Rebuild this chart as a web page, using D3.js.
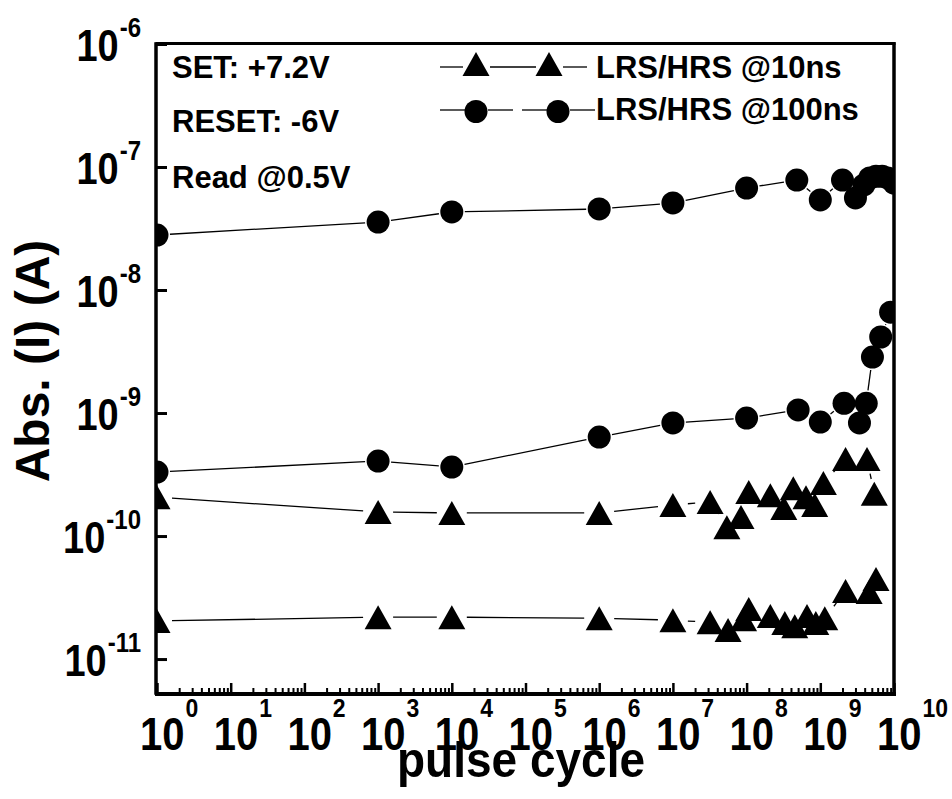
<!DOCTYPE html>
<html>
<head>
<meta charset="utf-8">
<script src="https://cdn.jsdelivr.net/npm/d3@7"></script>
<style>
  html, body { margin: 0; padding: 0; background: #fff; }
  svg { display: block; }
  text { font-family: "Liberation Sans", Arial, Helvetica, sans-serif; font-weight: bold; fill: #000; }
</style>
</head>
<body>
<svg id="chart" width="952" height="799"></svg>
<script>
// ---------- data ----------
const cyclesLRS100 = [1, 1e3, 1e4, 1e6, 1e7, 1e8, 4.8e8, 1e9, 2e9, 3e9, 3.9e9, 4.7e9, 5.7e9, 6.9e9, 8.3e9, 1e10];
const currentLRS100 = [2.80e-8, 3.57e-8, 4.31e-8, 4.56e-8, 5.10e-8, 6.75e-8, 7.83e-8, 5.40e-8, 7.83e-8, 5.60e-8, 7.15e-8, 8.14e-8, 8.4e-8, 8.4e-8, 8.14e-8, 7.4e-8];

const cyclesHRS100 = [1, 1e3, 1e4, 1e6, 1e7, 1e8, 5e8, 1e9, 2.1e9, 3.4e9, 4.2e9, 5.1e9, 6.6e9, 9e9];
const currentHRS100 = [3.31e-10, 4.07e-10, 3.64e-10, 6.38e-10, 8.30e-10, 9.10e-10, 1.06e-9, 8.45e-10, 1.20e-9, 8.30e-10, 1.20e-9, 2.85e-9, 4.15e-9, 6.6e-9];

const cyclesLRS10 = [1, 1e3, 1e4, 1e6, 1e7, 3.2e7, 5.4e7, 8.4e7, 1.07e8, 2.1e8, 3.2e8, 4.3e8, 6.4e8, 8.4e8, 1.1e9, 2.2e9, 4.3e9, 5.4e9];
const currentLRS10 = [2.07e-10, 1.57e-10, 1.54e-10, 1.54e-10, 1.79e-10, 1.89e-10, 1.18e-10, 1.43e-10, 2.28e-10, 2.15e-10, 1.69e-10, 2.45e-10, 2.07e-10, 1.79e-10, 2.70e-10, 4.23e-10, 4.23e-10, 2.21e-10];

const cyclesHRS10 = [1, 1e3, 1e4, 1e6, 1e7, 3.2e7, 5.6e7, 9.1e7, 1.07e8, 2.1e8, 3.3e8, 4.5e8, 6.6e8, 8.7e8, 1.15e9, 2.2e9, 4.6e9, 5.7e9];
const currentHRS10 = [2.04e-11, 2.19e-11, 2.19e-11, 2.15e-11, 2.07e-11, 1.99e-11, 1.72e-11, 2.11e-11, 2.55e-11, 2.24e-11, 1.96e-11, 1.85e-11, 2.24e-11, 1.96e-11, 2.15e-11, 3.57e-11, 3.5e-11, 4.47e-11];

const xTickExponents = [0, 1, 2, 3, 4, 5, 6, 7, 8, 9, 10];
const yTickExponents = [-6, -7, -8, -9, -10, -11];
const legendLabels = ["LRS/HRS @10ns", "LRS/HRS @100ns"];
const annotations = ["SET: +7.2V", "RESET: -6V", "Read @0.5V"];
const xTitle = "pulse cycle";
const yTitle = "Abs. (I) (A)";

// ---------- layout ----------
const L = 157, R = 894, T = 44, B = 693;
const svg = d3.select("#chart");

const x = d3.scaleLog().domain([1, 1e10]).range([L, R]);
const y = d3.scaleLog().domain([1e-6, Math.pow(10, -11.276)]).range([T, B]);

// clip
svg.append("defs").append("clipPath").attr("id", "plotclip")
  .append("rect").attr("x", L).attr("y", T).attr("width", R - L).attr("height", B - T);

// ---------- axes ticks ----------
const minorVals = [];
for (let e = 0; e < 10; e++) for (let m = 2; m <= 9; m++) minorVals.push(m * Math.pow(10, e));

const xMinor = svg.append("g").attr("transform", `translate(0,${B})`)
  .call(d3.axisBottom(x).tickValues(minorVals).tickSize(-5).tickFormat(""));
xMinor.select(".domain").remove();
xMinor.selectAll("line").attr("stroke", "#000").attr("stroke-width", 2);

const xMajor = svg.append("g").attr("transform", `translate(0,${B})`)
  .call(d3.axisBottom(x).tickValues(xTickExponents.map(e => Math.pow(10, e))).tickSize(-10).tickFormat(""));
xMajor.select(".domain").remove();
xMajor.selectAll("line").attr("stroke", "#000").attr("stroke-width", 2.5);

const yAx = svg.append("g").attr("transform", `translate(${L},0)`)
  .call(d3.axisLeft(y).tickValues(yTickExponents.map(e => Math.pow(10, e))).tickSize(-10).tickFormat(""));
yAx.select(".domain").remove();
yAx.selectAll("line").attr("stroke", "#000").attr("stroke-width", 3);

// ---------- tick labels ----------
xTickExponents.forEach(e => {
  const px = x(Math.pow(10, e));
  const g = svg.append("g").attr("transform", `translate(${px - 17},750) scale(1,1.15)`);
  const t = g.append("text").attr("x", 0).attr("y", 0).attr("font-size", 40);
  t.append("tspan").text("10");
  t.append("tspan").attr("dx", 1).attr("dy", -28.5).attr("font-size", 23).text(String(e));
});

yTickExponents.forEach(e => {
  const py = y(Math.pow(10, e));
  const g = svg.append("g").attr("transform", `translate(141,${py + 17}) scale(1,1.15)`);
  const t = g.append("text").attr("x", 0).attr("y", 0).attr("font-size", 38).attr("text-anchor", "end");
  t.append("tspan").text("10");
  t.append("tspan").attr("dx", 1).attr("dy", -21).attr("font-size", 24).text(String(e));
});

// ---------- axis titles ----------
svg.append("g").attr("transform", `translate(521,777) scale(1,1.1)`)
  .append("text").attr("text-anchor", "middle").attr("font-size", 46).text(xTitle);
svg.append("g").attr("transform", `translate(49,361) rotate(-90)`)
  .append("text").attr("text-anchor", "middle").attr("font-size", 48).text(yTitle);

// ---------- series ----------
const plot = svg.append("g").attr("clip-path", "url(#plotclip)");

function drawSegments(xs, ys, gap) {
  const pts = xs.map((c, i) => [x(c), y(ys[i])]);
  for (let i = 0; i < pts.length - 1; i++) {
    const [x1, y1] = pts[i], [x2, y2] = pts[i + 1];
    const dx = x2 - x1, dy = y2 - y1, len = Math.hypot(dx, dy);
    if (len <= 2 * gap) continue;
    const ux = dx / len, uy = dy / len;
    plot.append("line")
      .attr("x1", x1 + ux * gap).attr("y1", y1 + uy * gap)
      .attr("x2", x2 - ux * gap).attr("y2", y2 - uy * gap)
      .attr("stroke", "#000").attr("stroke-width", 1.3);
  }
}

const triPath = (cx, cy) => {
  const w = 27, h = 24;
  return `M${cx},${cy - h / 2}L${cx + w / 2},${cy + h / 2}L${cx - w / 2},${cy + h / 2}Z`;
};

function drawCircles(xs, ys) {
  plot.selectAll(null).data(xs.map((c, i) => [c, ys[i]])).enter().append("circle")
    .attr("cx", d => x(d[0])).attr("cy", d => y(d[1])).attr("r", 11.5).attr("fill", "#000");
}
function drawTriangles(xs, ys) {
  plot.selectAll(null).data(xs.map((c, i) => [c, ys[i]])).enter().append("path")
    .attr("d", d => triPath(x(d[0]), y(d[1]))).attr("fill", "#000");
}

drawSegments(cyclesLRS100, currentLRS100, 13);
drawSegments(cyclesHRS100, currentHRS100, 13);
drawSegments(cyclesLRS10, currentLRS10, 15);
drawSegments(cyclesHRS10, currentHRS10, 15);
drawCircles(cyclesLRS100, currentLRS100);
drawCircles(cyclesHRS100, currentHRS100);
drawTriangles(cyclesLRS10, currentLRS10);
drawTriangles(cyclesHRS10, currentHRS10);

// ---------- frame ----------
const frame = svg.append("g").attr("stroke", "#000").attr("stroke-linecap", "square");
frame.append("line").attr("x1", L).attr("y1", T - 0.5).attr("x2", R).attr("y2", T - 0.5).attr("stroke-width", 3);
frame.append("line").attr("x1", R).attr("y1", T).attr("x2", R).attr("y2", B).attr("stroke-width", 3.5);
frame.append("line").attr("x1", L).attr("y1", B + 1).attr("x2", R).attr("y2", B + 1).attr("stroke-width", 4);
frame.append("line").attr("x1", L - 1).attr("y1", T).attr("x2", L - 1).attr("y2", B).attr("stroke-width", 3.5);

// ---------- annotations ----------
const annY = [78, 132, 188];
annotations.forEach((a, i) => {
  svg.append("text").attr("x", 172).attr("y", annY[i]).attr("font-size", 31).text(a);
});

// ---------- legend ----------
const leg = svg.append("g");
// row 1: triangles
[[440, 463], [490, 536], [563, 587]].forEach(s =>
  leg.append("line").attr("x1", s[0]).attr("x2", s[1]).attr("y1", 67).attr("y2", 67).attr("stroke", "#000").attr("stroke-width", 1.3));
[476, 549].forEach(cx => leg.append("path").attr("d", triPath(cx, 64)).attr("fill", "#000"));
leg.append("text").attr("x", 596).attr("y", 78).attr("font-size", 31).text(legendLabels[0]);
// row 2: circles
[[440, 465], [488, 513], [522, 547], [570, 595]].forEach(s =>
  leg.append("line").attr("x1", s[0]).attr("x2", s[1]).attr("y1", 110).attr("y2", 110).attr("stroke", "#000").attr("stroke-width", 1.3));
[476, 558].forEach(cx => leg.append("circle").attr("cx", cx).attr("cy", 111.5).attr("r", 11.5).attr("fill", "#000"));
leg.append("text").attr("x", 596).attr("y", 120).attr("font-size", 31).text(legendLabels[1]);
</script>
</body>
</html>
